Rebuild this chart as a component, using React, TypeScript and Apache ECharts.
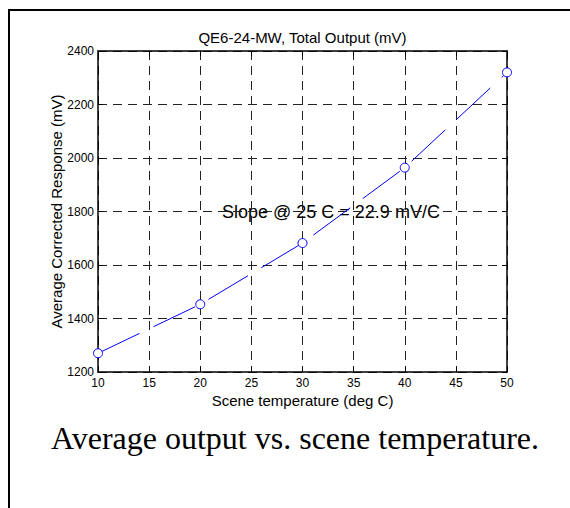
import { useEffect, useRef } from "react";
import * as echarts from "echarts";

const temperatures = [10, 20, 30, 40, 50];
const responses = [1270, 1453, 1682, 1964, 2320];
const xMin = 10;
const xMax = 50;
const xStep = 5;
const yMin = 1200;
const yMax = 2400;
const yStep = 200;
const chartTitle = "QE6-24-MW, Total Output (mV)";
const xAxisName = "Scene temperature (deg C)";
const yAxisName = "Average Corrected Response (mV)";
const slopeNote = "Slope @ 25 C = 22.9 mV/C";
const caption = "Average output vs. scene temperature.";

const SANS = '"Liberation Sans", Arial, Helvetica, sans-serif';
const SERIF = '"Liberation Serif", "Times New Roman", serif';

export default function App() {
  const ref = useRef<HTMLDivElement>(null);

  useEffect(() => {
    if (!ref.current) return;
    const chart = echarts.init(ref.current, null, { renderer: "svg" });
    const gridLeft = 98;
    const gridTop = 51;
    const gridW = 409;
    const gridH = 321;
    const axisCommon = {
      axisLine: { show: true, onZero: false, lineStyle: { color: "#000", width: 1.5 } },
      axisTick: { show: true, inside: true, length: 5, lineStyle: { color: "#000", width: 1 } },
    };
    const plain = (v: number) => String(v);
    chart.setOption({
      animation: false,
      grid: {
        left: gridLeft,
        top: gridTop,
        width: gridW,
        height: gridH,
        show: false,
      },
      xAxis: [
        {
          type: "value",
          min: xMin,
          max: xMax,
          interval: xStep,
          position: "bottom",
          ...axisCommon,
          axisLabel: { color: "#000", fontSize: 12, fontFamily: SANS, margin: 5, formatter: plain },
          splitLine: { show: true, lineStyle: { color: "#222", width: 1, type: [9, 6] } },
          name: xAxisName,
          nameLocation: "middle",
          nameGap: 21,
          nameMoveOverlap: false,
          nameTextStyle: { color: "#000", fontSize: 15, fontFamily: SANS },
        },
        {
          type: "value",
          min: xMin,
          max: xMax,
          interval: xStep,
          position: "top",
          ...axisCommon,
          axisLabel: { show: false },
          splitLine: { show: false },
        },
      ],
      yAxis: [
        {
          type: "value",
          min: yMin,
          max: yMax,
          interval: yStep,
          position: "left",
          ...axisCommon,
          axisLabel: { color: "#000", fontSize: 12, fontFamily: SANS, margin: 4, formatter: plain },
          splitLine: { show: true, lineStyle: { color: "#222", width: 1, type: [9, 6] } },
          name: yAxisName,
          nameLocation: "middle",
          nameGap: 34,
          nameMoveOverlap: false,
          nameTextStyle: { color: "#000", fontSize: 15, fontFamily: SANS },
        },
        {
          type: "value",
          min: yMin,
          max: yMax,
          interval: yStep,
          position: "right",
          ...axisCommon,
          axisLabel: { show: false },
          splitLine: { show: false },
        },
      ],
      series: [
        {
          type: "line",
          data: temperatures.map((t, i) => [t, responses[i]]),
          symbol: "circle",
          symbolSize: 9,
          showSymbol: true,
          clip: false,
          itemStyle: { color: "#ffffff", borderColor: "#0000ff", borderWidth: 1 },
          emphasis: { disabled: true },
          lineStyle: { color: "#0000ff", width: 1, type: [46, 15.5], dashOffset: 0 },
          z: 3,
        },
      ],
      graphic: [
        {
          type: "text",
          x: gridLeft + gridW / 2,
          y: 37,
          style: {
            text: chartTitle,
            font: `15px ${SANS}`,
            fill: "#000",
            textAlign: "center",
            textVerticalAlign: "middle",
          },
        },
        {
          type: "text",
          x: 222,
          y: 212,
          z: -1,
          style: {
            text: slopeNote,
            font: `18px ${SANS}`,
            fill: "#000",
            textAlign: "left",
            textVerticalAlign: "middle",
          },
        },
        {
          type: "text",
          x: 295,
          y: 438,
          style: {
            text: caption,
            font: `32px ${SERIF}`,
            fill: "#000",
            textAlign: "center",
            textVerticalAlign: "middle",
          },
        },
      ],
    });
    return () => chart.dispose();
  }, []);

  return (
    <div
      style={{
        position: "fixed",
        left: 0,
        top: 0,
        width: 570,
        height: 508,
        overflow: "hidden",
        background: "#fff",
      }}
    >
      <div
        style={{
          position: "absolute",
          left: 8,
          top: 9,
          width: 640,
          height: 640,
          border: "2px solid #000",
        }}
      />
      <div ref={ref} style={{ position: "absolute", left: 0, top: 0, width: 570, height: 508 }} />
    </div>
  );
}
